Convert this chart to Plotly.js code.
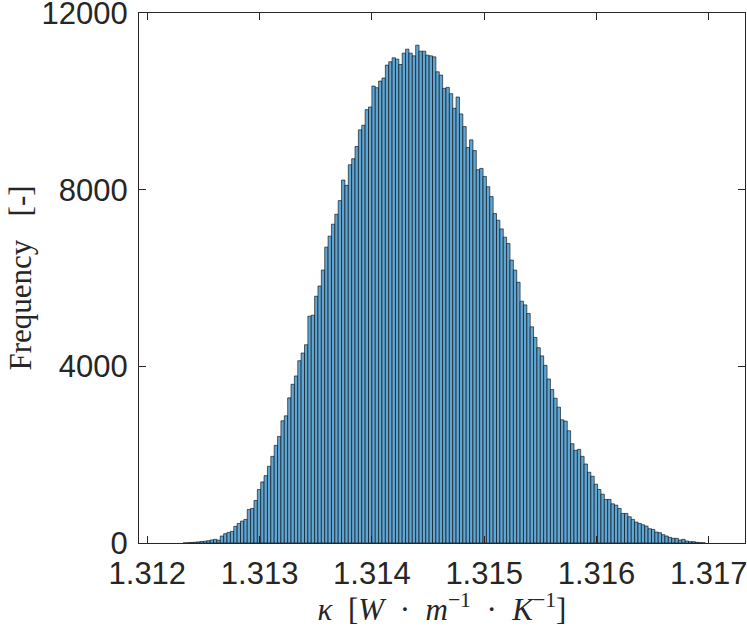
<!DOCTYPE html>
<html>
<head>
<meta charset="utf-8">
<script src="https://cdn.plot.ly/plotly-3.0.1.min.js"></script>
<style>html,body{margin:0;padding:0;background:#fff;}#chart{width:747px;height:627px;}</style>
</head>
<body>
<div id="chart"></div>
<script>
// Histogram bin specification (MATLAB-style binning)
const binStart = 1.31232;
const binWidth = 0.00003;
// Counts per bin
const counts = [
  3, 6, 12, 18, 25, 35, 40, 52, 70, 83,
  65, 158, 211, 240, 263, 376, 443, 496, 534, 759,
  782, 963, 1210, 1383, 1526, 1737, 1962, 2210, 2413, 2767,
  2880, 3286, 3594, 3782, 4128, 4301, 4489, 5136, 5158, 5587,
  5819, 6180, 6699, 6947, 7218, 7444, 7752, 8218, 8098, 8564,
  8700, 8977, 9354, 9459, 9812, 9872, 10346, 10308, 10459, 10527,
  10820, 10895, 10985, 10955, 10834, 11091, 11181, 11091, 11030, 11271,
  11136, 11136, 11046, 11030, 11007, 10669, 10594, 10293, 10316, 10173,
  9842, 10098, 9715, 9428, 8955, 9128, 8884, 8452, 8481, 8300,
  8068, 7843, 7459, 7308, 7112, 6925, 6782, 6406, 6180, 5903,
  5474, 5391, 5195, 4895, 4654, 4421, 4237, 4022, 3714, 3474,
  3278, 3075, 2789, 2759, 2541, 2248, 2098, 2120, 1962, 1789,
  1601, 1511, 1331, 1211, 1105, 986, 986, 887, 857, 782,
  670, 670, 594, 534, 474, 443, 413, 383, 323, 308,
  248, 233, 188, 158, 128, 105, 105, 68, 83, 45,
  30, 30, 15, 8, 4
];
const xTickVals = [1.312, 1.313, 1.314, 1.315, 1.316, 1.317];
const xTickText = ['1.312', '1.313', '1.314', '1.315', '1.316', '1.317'];
const yTickVals = [0, 4000, 8000, 12000];
const yTickText = ['0', '4000', '8000', '12000'];

const centers = counts.map((_, i) => binStart + (i + 0.5) * binWidth);

const trace = {
  type: 'bar',
  x: centers,
  y: counts,
  width: binWidth,
  marker: {
    color: 'rgb(96,166,212)',
    line: {color: '#000000', width: 0.6}
  },
  hoverinfo: 'x+y'
};

const axisCommon = {
  showline: true,
  linecolor: '#262626',
  linewidth: 1,
  mirror: 'ticks',
  ticks: 'inside',
  ticklen: 7,
  tickwidth: 1,
  tickcolor: '#262626',
  showgrid: false,
  zeroline: false,
  ticklabeloverflow: 'allow',
  tickfont: {family: 'Liberation Sans, Arial, sans-serif', size: 31, color: '#262626'}
};

const layout = {
  width: 747,
  height: 627,
  margin: {l: 139, r: 2, t: 13, b: 84},
  paper_bgcolor: '#ffffff',
  plot_bgcolor: '#ffffff',
  showlegend: false,
  bargap: 0,
  xaxis: Object.assign({}, axisCommon, {
    range: [1.311926, 1.317323],
    tickvals: xTickVals,
    ticktext: xTickText,
    ticklabelstandoff: 3,
    title: {
      text: '<i>κ</i>&nbsp;&nbsp;[<i>W</i>&nbsp;&nbsp;·&nbsp;&nbsp;<i>m</i><sup>−1</sup>&nbsp;&nbsp;·&nbsp;&nbsp;<i>K</i><sup>−1</sup>]',
      font: {family: 'Liberation Serif, DejaVu Serif, serif', size: 31, color: '#262626'},
      standoff: 3
    }
  }),
  yaxis: Object.assign({}, axisCommon, {
    range: [0, 12000],
    tickvals: yTickVals,
    ticktext: yTickText,
    ticklabelstandoff: 4,
    title: {
      text: 'Frequency&nbsp;&nbsp;&nbsp;[-]',
      font: {family: 'Liberation Serif, DejaVu Serif, serif', size: 31, color: '#262626'},
      standoff: 0
    }
  })
};

Plotly.newPlot('chart', [trace], layout, {displayModeBar: false, staticPlot: true});
</script>
</body>
</html>
